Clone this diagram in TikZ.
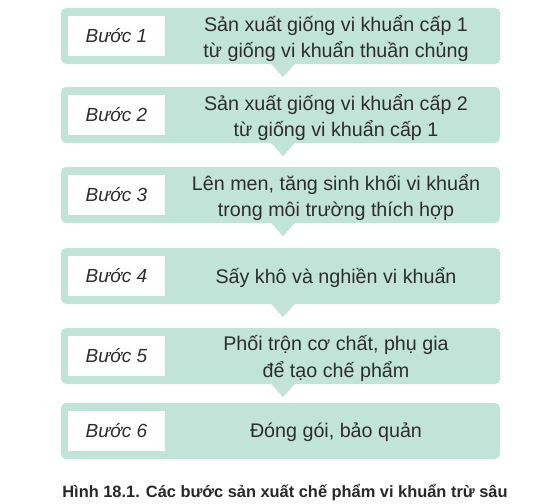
\documentclass[tikz,border=0pt]{standalone}
\usepackage{fontspec}
\setmainfont{Liberation Sans}
\definecolor{boxfill}{RGB}{194,227,215}
\definecolor{txt}{RGB}{45,45,45}
\definecolor{captxt}{RGB}{40,40,40}
\tikzset{
  stepbox/.style={fill=boxfill, rounded corners=5pt, minimum width=439pt, minimum height=56pt, inner sep=0pt},
  labelbox/.style={fill=white, minimum width=97pt, minimum height=40pt, inner sep=0pt, text=txt, font=\fontsize{19}{22}\selectfont\itshape},
  steptext/.style={align=center, text=txt, font=\fontsize{19.7}{26.5}\selectfont},
  pointer/.style={fill=boxfill}
}
\begin{document}
\begin{tikzpicture}[x=1pt,y=-1pt]
\useasboundingbox (0,0) rectangle (550,504);
\fill[white] (0,0) rectangle (550,504);
% boxes
\node[stepbox] (b1) at (280.5,36) {};
\node[stepbox] (b2) at (280.5,115) {};
\node[stepbox] (b3) at (280.5,195) {};
\node[stepbox] (b4) at (280.5,276) {};
\node[stepbox] (b5) at (280.5,356) {};
\node[stepbox] (b6) at (280.5,431) {};
% pointers
\foreach \b in {b1,b2,b3,b4,b5}{
  \fill[pointer] ([xshift=-12pt,yshift=0.5pt]\b.south -| 283,0) -- ([yshift=-13pt]\b.south -| 283,0) -- ([xshift=12pt,yshift=0.5pt]\b.south -| 283,0) -- cycle;
}
% labels
\node[labelbox] (l1) at (116.5,36) {Bước 1};
\node[labelbox] (l2) at (116.5,115) {Bước 2};
\node[labelbox] (l3) at (116.5,195) {Bước 3};
\node[labelbox] (l4) at (116.5,276) {Bước 4};
\node[labelbox] (l5) at (116.5,356) {Bước 5};
\node[labelbox] (l6) at (116.5,431) {Bước 6};
% texts
\node[steptext] (t1) at (336,38.5) {Sản xuất giống vi khuẩn cấp 1\\từ giống vi khuẩn thuần chủng};
\node[steptext] (t2) at (336,117.5) {Sản xuất giống vi khuẩn cấp 2\\từ giống vi khuẩn cấp 1};
\node[steptext] (t3) at (336,197.5) {Lên men, tăng sinh khối vi khuẩn\\trong môi trường thích hợp};
\node[steptext] (t4) at (336,277.5) {Sấy khô và nghiền vi khuẩn};
\node[steptext] (t5) at (336,358.5) {Phối trộn cơ chất, phụ gia\\để tạo chế phẩm};
\node[steptext] (t6) at (336,432.5) {Đóng gói, bảo quản};
% caption
\node[text=captxt, font=\fontsize{16.4}{19}\selectfont\bfseries] (cap) at (285,493) {Hình 18.1. Các bước sản xuất chế phẩm vi khuẩn trừ sâu};
\end{tikzpicture}
\end{document}
